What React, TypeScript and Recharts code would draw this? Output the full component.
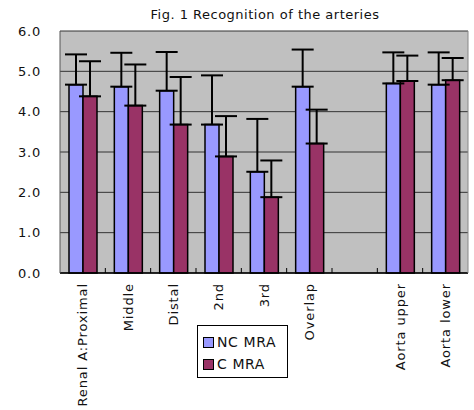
import React from 'react';
import { BarChart, Bar, XAxis, YAxis, CartesianGrid, ErrorBar, Legend } from 'recharts';

const categories = ['Renal A:Proximal', 'Middle', 'Distal', '2nd', '3rd', 'Overlap', '', 'Aorta upper', 'Aorta lower'];
const ncMra = [4.67, 4.62, 4.52, 3.68, 2.51, 4.62, null, 4.70, 4.67];
const ncErr = [0.75, 0.84, 0.96, 1.22, 1.31, 0.92, null, 0.77, 0.80];
const cMra = [4.38, 4.15, 3.68, 2.89, 1.88, 3.21, null, 4.76, 4.78];
const cErr = [0.87, 1.02, 1.18, 1.00, 0.91, 0.84, null, 0.63, 0.55];
const yTicks = [0, 1, 2, 3, 4, 5, 6];

const title = 'Fig. 1 Recognition of the arteries';
const seriesNames = ['NC MRA', 'C MRA'];
const colors = ['#9999FF', '#993366'];

const data = categories.map((name, i) => ({
  name,
  nc: ncMra[i],
  ncE: ncErr[i] == null ? null : [0, ncErr[i]],
  c: cMra[i],
  cE: cErr[i] == null ? null : [0, cErr[i]],
}));

const FONT = '"DejaVu Sans", sans-serif';

const XTick = (props: any) => {
  const { x, y, payload, width, index } = props;
  const band = width / categories.length;
  const axisY = y - 10;
  return (
    <g>
      {index < categories.length - 1 && (
        <line x1={x + band / 2} x2={x + band / 2} y1={axisY - 5} y2={axisY} stroke="#000" strokeWidth={1} />
      )}
      <text
        x={x}
        y={y}
        transform={`rotate(-90 ${x} ${y})`}
        textAnchor="end"
        dy="0.35em"
        fontSize={13}
        letterSpacing={0.9}
        fontFamily={FONT}
        fill="#111"
      >
        {payload.value}
      </text>
    </g>
  );
};

const LegendContent = () => (
  <div
    style={{
      border: '1px solid #000',
      background: '#fff',
      padding: '3px 5px',
      fontFamily: FONT,
      fontSize: 14,
      letterSpacing: 0.6,
      color: '#111',
      boxSizing: 'border-box',
      width: 91,
      height: 53,
    }}
  >
    {seriesNames.map((n, i) => (
      <div key={n} style={{ display: 'flex', alignItems: 'center', height: 22, marginTop: i === 0 ? 2 : 0 }}>
        <span
          style={{
            display: 'inline-block',
            width: 9,
            height: 9,
            background: colors[i],
            border: '1.5px solid #000',
            marginRight: 3,
          }}
        />
        <span>{n}</span>
      </div>
    ))}
  </div>
);

export default function App() {
  return (
    <div style={{ position: 'absolute', left: 0, top: 0, width: 474, height: 410, background: '#fff' }}>
      <div
        style={{
          position: 'absolute',
          left: 0,
          top: 7,
          width: 530,
          textAlign: 'center',
          fontFamily: FONT,
          fontSize: 13,
          letterSpacing: 0.5,
          color: '#111',
        }}
      >
        {title}
      </div>
      <BarChart
        width={474}
        height={410}
        data={data}
        margin={{ top: 31, right: 5, left: 10, bottom: 0 }}
        barGap={0}
        barSize={14}
      >
        <CartesianGrid vertical={false} stroke="#333" fill="#C0C0C0" fillOpacity={1} />
        <XAxis
          dataKey="name"
          interval={0}
          height={137}
          tickLine={false}
          tickSize={0}
          tickMargin={10}
          axisLine={{ stroke: '#000', strokeWidth: 1.5 }}
          tick={<XTick />}
        />
        <YAxis
          domain={[0, 6]}
          ticks={yTicks}
          width={50}
          tickLine={false}
          tickMargin={13}
          axisLine={{ stroke: '#555' }}
          tickFormatter={(v: number) => v.toFixed(1)}
          tick={{ fontSize: 13, fill: '#111', fontFamily: FONT, letterSpacing: 0.8 }}
        />
        <YAxis yAxisId="r" orientation="right" domain={[0, 6]} width={1} tick={false} tickLine={false} axisLine={{ stroke: '#888' }} />
        <Legend
          layout="vertical"
          align="center"
          verticalAlign="middle"
          content={<LegendContent />}
          wrapperStyle={{ left: 197, top: 325, width: 91, height: 53 }}
        />
        <Bar dataKey="nc" name={seriesNames[0]} fill={colors[0]} stroke="#000" strokeWidth={1.5} isAnimationActive={false}>
          <ErrorBar dataKey="ncE" width={11} stroke="#000" strokeWidth={2} direction="y" />
        </Bar>
        <Bar dataKey="c" name={seriesNames[1]} fill={colors[1]} stroke="#000" strokeWidth={1.5} isAnimationActive={false}>
          <ErrorBar dataKey="cE" width={11} stroke="#000" strokeWidth={2} direction="y" />
        </Bar>
      </BarChart>
    </div>
  );
}
